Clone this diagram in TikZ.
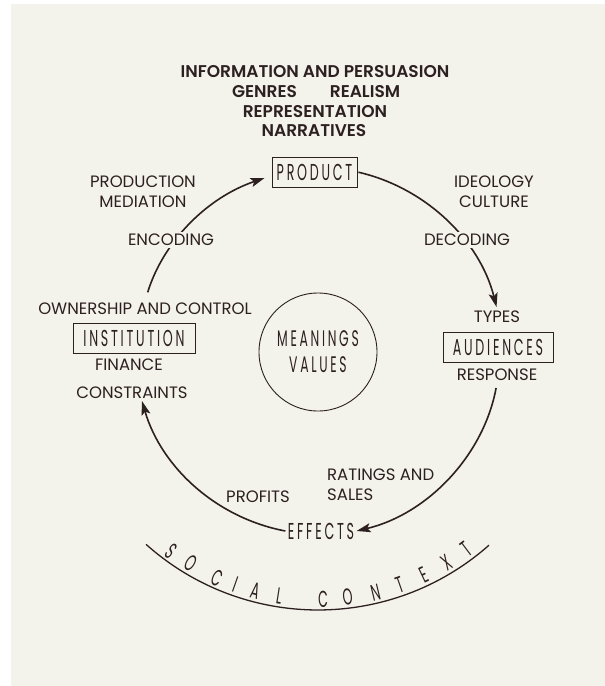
\documentclass[tikz,border=0pt]{standalone}
\usepackage{fontspec}
\setmainfont{Poppins}[BoldFont={Poppins SemiBold}]
\newfontfamily\boxfont[LetterSpace=12,FakeStretch=0.55]{Poppins}
\usetikzlibrary{arrows.meta}
\definecolor{paper}{RGB}{243,242,235}
\definecolor{ink}{RGB}{45,32,32}
\begin{document}
\begin{tikzpicture}[x=1pt,y=-1pt,
  lab/.style={font=\fontsize{16.5}{20}\selectfont, text=ink, inner sep=2pt, align=center},
  ttl/.style={font=\fontsize{17}{19}\selectfont\bfseries, text=ink, inner sep=1pt},
  boxed/.style={draw=ink, line width=0.9pt, font={\boxfont\fontsize{23}{26}\selectfont}, text=ink, minimum height=30pt, inner sep=2pt},
  scl/.style={font={\boxfont\fontsize{23}{24}\selectfont}, text=ink, inner sep=0pt},
  cyc/.style={draw=ink, line width=1.6pt, -{Stealth[length=14pt,width=9pt,inset=3pt]}},
]
\useasboundingbox (0,0) rectangle (605,686);
\fill[paper] (11,4) rectangle (605,686);

% title
\node[ttl] (t1) at (315,72) {INFORMATION AND PERSUASION};
\node[ttl] (t2a) at (264.5,92) {GENRES};
\node[ttl] (t2b) at (365,92) {REALISM};
\node[ttl] (t3) at (315,112) {REPRESENTATION};
\node[ttl] (t4) at (314,131) {NARRATIVES};

% main nodes
\node[boxed, minimum width=85pt] (product) at (314.5,172) {PRODUCT};
\node[boxed, minimum width=122pt] (inst) at (134,338) {INSTITUTION};
\node[boxed, minimum width=110pt] (aud) at (498,347) {AUDIENCES};
\node[boxed, draw=none, minimum height=0pt] (effects) at (321,531) {EFFECTS};
\node[circle, draw=ink, line width=0.9pt, minimum size=118pt, inner sep=0pt, align=center,
      font={\boxfont\fontsize{22.5}{26}\selectfont}, text=ink] (mean) at (318,352) {MEANINGS\\VALUES};

% labels
\node[lab] (prodmed) at (143,192) {PRODUCTION\\MEDIATION};
\node[lab] (ideo) at (494,192) {IDEOLOGY\\CULTURE};
\node[lab] (types) at (497,317) {TYPES};
\node[lab] (resp) at (497,375) {RESPONSE};
\node[lab] (own) at (145,309) {OWNERSHIP AND CONTROL};
\node[lab] (fin) at (129,365) {FINANCE};
\node[lab] (cons) at (132,393) {CONSTRAINTS};
\node[lab] (prof) at (258,497) {PROFITS};
\node[lab, align=left, anchor=west] (rat) at (325,485) {RATINGS AND\\SALES};

% cycle arcs
\draw[cyc, shorten <=9pt] (own.north) to[bend left=27, looseness=0.92] ([shift={(-7,6)}]product.west);
\draw[cyc, shorten <=1pt, shorten >=2pt] (product.east) to[bend left=31.5, looseness=0.92] (types.north);
\draw[cyc, shorten <=5pt] (resp.south) to[bend left=33, looseness=0.92] (effects.east);
\draw[cyc] (effects.west) to[bend left=31.5, looseness=0.92] ([xshift=10pt]cons.south);

\node[lab, fill=paper] (enc) at (171,240) {ENCODING};
\node[lab, fill=paper] (dec) at (467,240) {DECODING};

% social context
\draw[ink, line width=1.3pt] ([shift={(131.8:258)}]mean.center) arc[start angle=131.8, end angle=48.5, radius=258];
\foreach \a/\c [count=\k] in {126.4/S,121.1/O,114/C,109.5/I,104.7/A,99/L,88.8/C,83.1/O,76.5/N,70.7/T,64.7/E,58.7/X,53.1/T}
  \node[scl, rotate={90-\a}] (sc\k) at ([shift={(\a:247)}]mean.center) {\c};
\end{tikzpicture}
\end{document}
